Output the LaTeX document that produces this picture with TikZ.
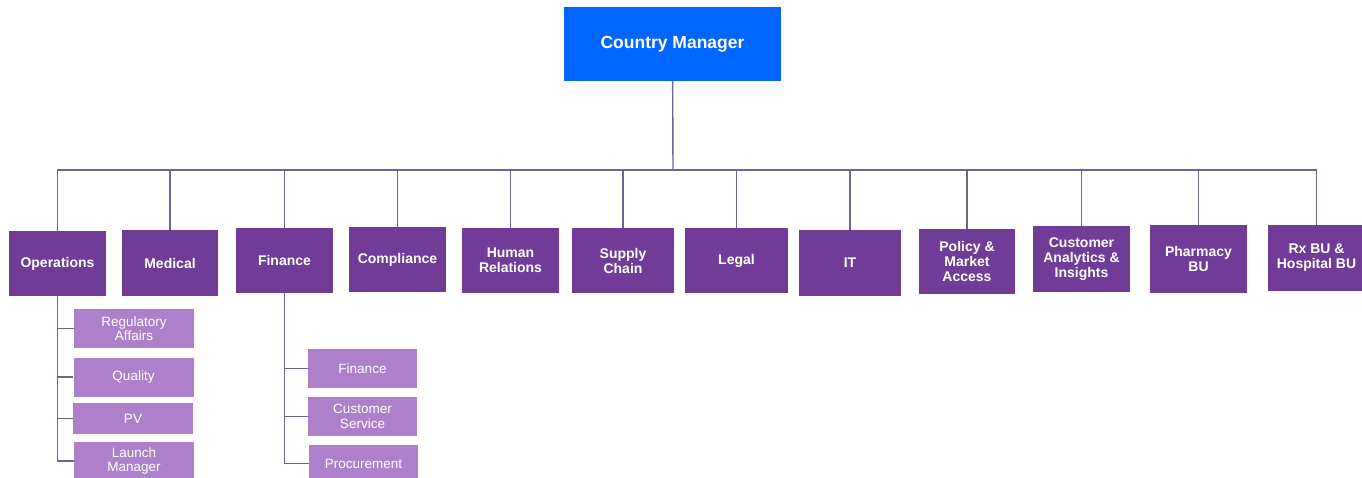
\documentclass[tikz,border=0pt]{standalone}
\usepackage{fontspec}
\setmainfont{Liberation Sans}
\usepackage{tikz}
\usetikzlibrary{positioning, calc}

\definecolor{headblue}{RGB}{0,102,255}
\definecolor{deptpurple}{RGB}{112,60,151}
\definecolor{subpurple}{RGB}{174,128,203}
\definecolor{linkgray}{RGB}{108,100,146}

\begin{document}
\begin{tikzpicture}[x=1pt, y=-1pt,
        head/.style={fill=headblue, text=white, inner sep=0pt, minimum width=217pt, minimum height=74pt,
            font=\fontsize{17.5}{19}\selectfont\bfseries},
        dept/.style={fill=deptpurple, text=white, inner sep=0pt, minimum height=65pt, align=center,
            font=\fontsize{14}{15}\selectfont\bfseries},
        sub/.style={fill=subpurple, text=white, inner sep=0pt, minimum width=120pt, minimum height=39pt, align=center,
            font=\fontsize{13.5}{14.3}\selectfont},
        link/.style={draw=linkgray, line width=1.4pt}]
        \useasboundingbox (0,0) rectangle (1362,478);

        \node[head] (cm) at (672.5,44) {Country Manager};
        \coordinate (bus) at (673,170);

        \node[dept, minimum width=97pt] (ops) at (57.5,263.5) {Operations};
        \node[dept, minimum width=96pt] (med) at (170,263) {Medical};
        \node[dept, minimum width=97pt] (fin) at (284.5,260.5) {Finance};
        \node[dept, minimum width=97pt] (comp) at (397.5,259.5) {Compliance};
        \node[dept, minimum width=97pt] (hr) at (510.5,260.5) {Human\\Relations};
        \node[dept, minimum width=102pt] (sc) at (623,260.5) {Supply\\Chain};
        \node[dept, minimum width=103pt] (legal) at (736.5,260.5) {Legal};
        \node[dept, minimum width=102pt] (it) at (850,263) {IT};
        \node[dept, minimum width=96pt] (pma) at (967,261.5) {Policy \&\\Market\\Access};
        \node[dept, minimum width=97pt] (cai) at (1081.5,259) {Customer\\Analytics \&\\Insights};
        \node[dept, minimum width=97pt, minimum height=68pt] (pbu) at (1198.5,259) {Pharmacy\\BU};
        \node[dept, minimum width=97pt] (rx) at (1316.5,258) {Rx BU \&\\Hospital BU};

        \node[sub] (ra) at (134,328.5) {Regulatory\\Affairs};
        \node[sub] (qual) at (133.5,377) {Quality};
        \node[sub, minimum height=31pt] (pv) at (133,418.5) {PV};
        \node[sub, minimum height=38pt] (lm) at (134,461) {Launch\\Manager};

        \node[sub, minimum width=109pt] (fina) at (362.5,368.5) {Finance};
        \node[sub, minimum width=109pt] (cs) at (362.5,416.5) {Customer\\Service};
        \node[sub, minimum width=109pt, minimum height=37pt] (proc) at (363.5,463.5) {Procurement};

        \draw[link] (cm) -- (bus);
        \foreach \d in {ops, med, fin, comp, hr, sc, legal, it, pma, cai, pbu, rx}
            \draw[link] (\d.north) |- (bus);
        \foreach \s in {ra, qual, pv, lm}
            \draw[link] (\s.west) -| (ops.south);
        \foreach \s in {fina, cs, proc}
            \draw[link] (\s.west) -| (fin.south);
\end{tikzpicture}
\end{document}
